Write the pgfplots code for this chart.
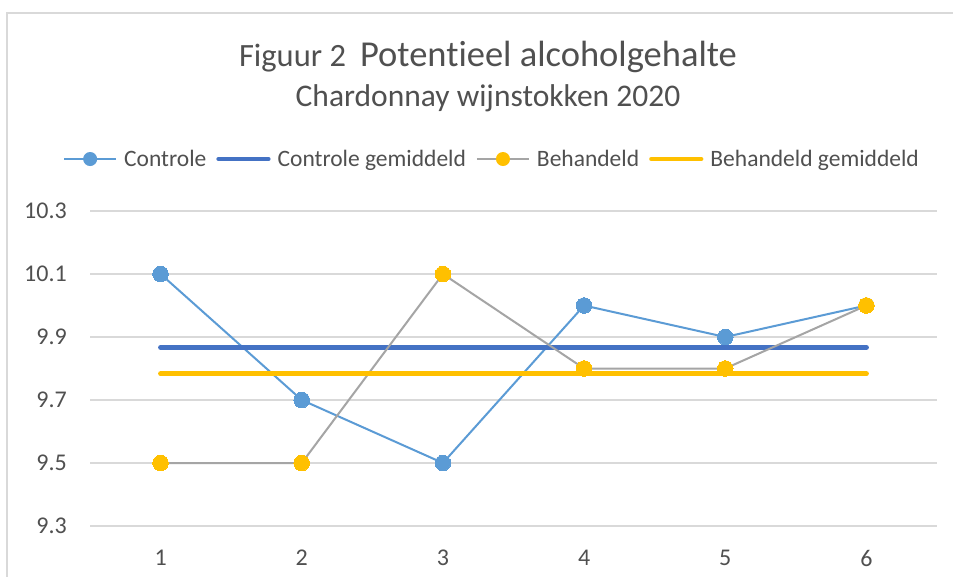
\documentclass[border=0pt]{standalone}
\usepackage{fontspec}
\setmainfont{Carlito}[Ligatures={NoCommon}]
\usepackage{pgfplots}
\pgfplotsset{compat=1.18}
\definecolor{cblue}{HTML}{5B9BD5}
\definecolor{cdark}{HTML}{4472C4}
\definecolor{bgray}{HTML}{A5A5A5}
\definecolor{byel}{HTML}{FFC000}
\definecolor{gridgray}{HTML}{D9D9D9}
\definecolor{textgray}{HTML}{505050}
\begin{document}
\begin{tikzpicture}
\useasboundingbox (0,0) rectangle (953pt,-577pt);
\fill[white] (0,0) rectangle (953pt,-577pt);
\draw[color=gridgray, line width=1.6pt] (7pt,-13pt) rectangle (1000pt,-700pt);
\node[anchor=base, text=textgray, inner sep=0pt] at (488pt,-67pt) {\fontsize{32.5}{36}\selectfont Figuur 2\hspace{14pt}\fontsize{36.5}{40}\selectfont Potentieel alcoholgehalte};
\node[anchor=base, text=textgray, inner sep=0pt] at (488pt,-107pt) {\fontsize{31.5}{36}\selectfont Chardonnay wijnstokken 2020};
\begin{axis}[
  at={(90pt,-526pt)}, anchor=south west,
  scale only axis, width=847pt, height=315pt,
  xmin=0.5, xmax=6.5, ymin=9.3, ymax=10.3,
  clip=false,
  axis line style={draw=none},
  tick style={draw=none},
  major tick length=0pt,
  xtick={1,2,3,4,5,6},
  ytick={9.3,9.5,9.7,9.9,10.1,10.3},
  ymajorgrids,
  grid style={color=gridgray, line width=1.3pt},
  /pgf/number format/assume math mode=true,
  yticklabel style={/pgf/number format/fixed, /pgf/number format/fixed zerofill, /pgf/number format/precision=1, anchor=east, inner sep=0pt, xshift=-23pt},
  xticklabel style={anchor=north, inner sep=0pt, yshift=-24pt},
  ticklabel style={font=\fontsize{24}{28}\selectfont, text=textgray},
  legend columns=4,
  legend cell align=left,
  legend style={at={(0.4734,1.165)}, anchor=center, draw=none, fill=none, inner sep=0pt,
    font=\fontsize{23.5}{28}\selectfont, text=textgray,
    nodes={inner sep=0pt},
    /tikz/every odd column/.append style={column sep=7pt},
    /tikz/every even column/.append style={column sep=10pt}},
]
\addplot[color=cblue, line width=2pt, mark=*, mark size=7.8pt, mark options={fill=cblue, draw=cblue, line width=0pt},
  legend image code/.code={\draw[color=cblue, line width=2pt] (0pt,0pt) -- (52pt,0pt); \fill[cblue] (26pt,0pt) circle (6pt);}]
  coordinates {(1,10.1) (2,9.7) (3,9.5) (4,10.0) (5,9.9) (6,10.0)};
\addlegendentry{Controle}
\addplot[color=cdark, line width=5pt, line cap=round, no marks,
  legend image code/.code={\draw[color=cdark, line width=4.5pt, line cap=round] (2.25pt,0pt) -- (52pt,0pt);}]
  coordinates {(1,9.8667) (6,9.8667)};
\addlegendentry{Controle gemiddeld}
\addplot[color=bgray, line width=2pt, mark=*, mark size=7.8pt, mark options={fill=byel, draw=byel, line width=0pt},
  legend image code/.code={\draw[color=bgray, line width=2pt] (0pt,0pt) -- (52pt,0pt); \fill[byel] (26pt,0pt) circle (6pt);}]
  coordinates {(1,9.5) (2,9.5) (3,10.1) (4,9.8) (5,9.8) (6,10.0)};
\addlegendentry{Behandeld}
\addplot[color=byel, line width=5pt, line cap=round, no marks,
  legend image code/.code={\draw[color=byel, line width=4.5pt, line cap=round] (2.25pt,0pt) -- (52pt,0pt);}]
  coordinates {(1,9.7833) (6,9.7833)};
\addlegendentry{Behandeld gemiddeld}
\end{axis}
\end{tikzpicture}
\end{document}
